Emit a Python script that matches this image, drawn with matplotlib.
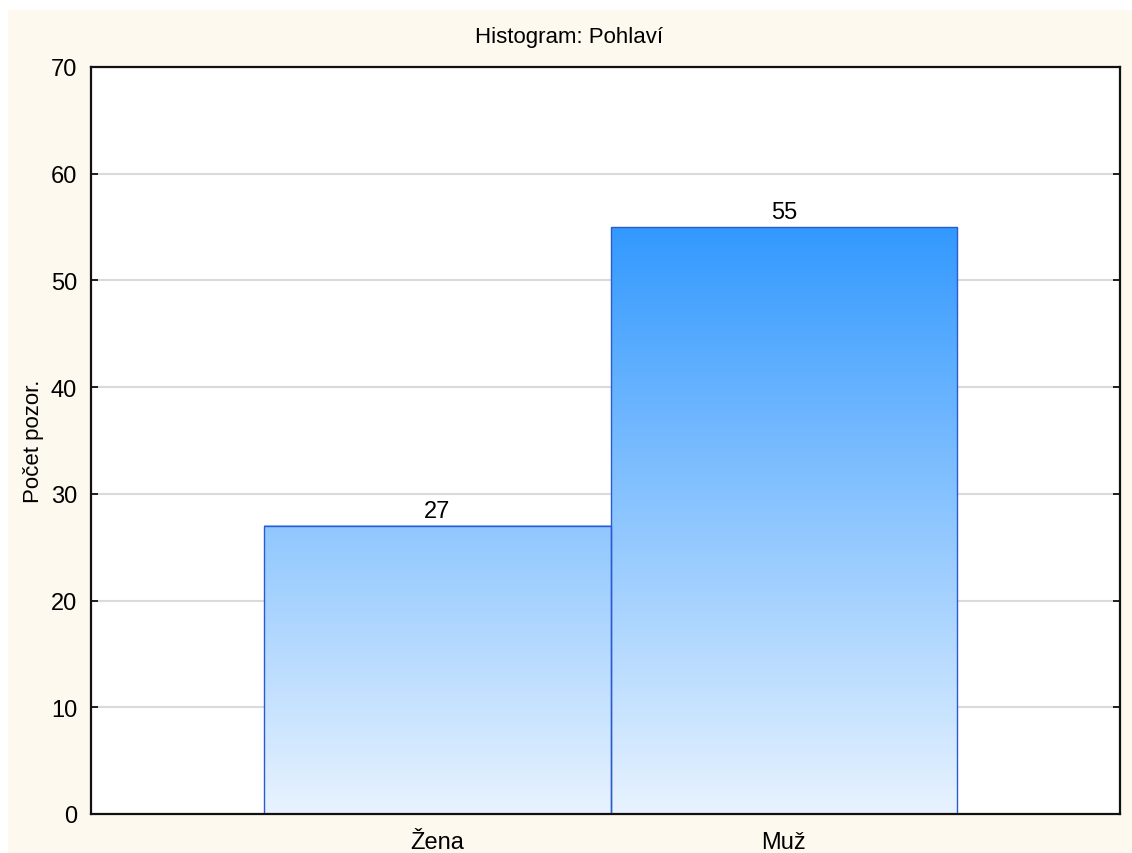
import matplotlib.pyplot as plt
import numpy as np
from matplotlib.colors import LinearSegmentedColormap
from matplotlib.patches import Rectangle

categories = ["Žena", "Muž"]
counts = [27, 55]
y_ticks = [0, 10, 20, 30, 40, 50, 60, 70]

plt.rcParams["font.family"] = ["Liberation Sans", "DejaVu Sans"]

fig = plt.figure(figsize=(11.32, 8.54), dpi=100, facecolor="white")
fig.patches.append(
    Rectangle((0.007, 0), 1, 0.987, transform=fig.transFigure,
              facecolor="#fef9ee", edgecolor="none", zorder=-10)
)
ax = fig.add_axes([0.0804, 0.0457, 0.909, 0.8747])
ax.set_facecolor("white")

cmap = LinearSegmentedColormap.from_list("blue_grad", ["#e8f3fe", "#3399ff"])
top = max(counts)
grad = np.linspace(0, 1, 256).reshape(-1, 1)
xs = np.arange(len(categories))
width = 1.0

for x, c in zip(xs, counts):
    x0, x1 = x - width / 2, x + width / 2
    frac = c / top
    ax.imshow(grad[: int(256 * frac)], cmap=cmap, vmin=0, vmax=1,
              extent=[x0, x1, 0, c], origin="lower", aspect="auto", zorder=2)
    ax.add_patch(Rectangle((x0, 0), width, c, facecolor="none",
                           edgecolor="#2a5bd0", linewidth=1.0, zorder=3))
    ax.text(x, c + 0.4, str(c), ha="center", va="bottom", fontsize=17, zorder=4)

ax.set_xlim(-1.0, 1.97)
ax.set_ylim(0, 70)
ax.set_yticks(y_ticks)
ax.set_xticks(xs)
ax.set_xticklabels(categories)
ax.tick_params(axis="both", direction="in", length=5, width=1.2,
               labelsize=17, top=False, right=True, pad=10)
ax.tick_params(axis="x", pad=12)
for y in y_ticks[1:-1]:
    ax.axhline(y, color="#dadada", linewidth=1.5, zorder=1)
for s in ax.spines.values():
    s.set_linewidth(1.6)
    s.set_color("#111111")
    s.set_zorder(5)

# title is centred on the whole figure, not on the axes
fig.text(0.503, 1 - 38 / 854, "Histogram: Pohlaví", fontsize=16,
         ha="center", va="center")
ax.set_ylabel("Počet pozor.", fontsize=16, labelpad=5)

fig.savefig("out.png", dpi=100, facecolor=fig.get_facecolor())
